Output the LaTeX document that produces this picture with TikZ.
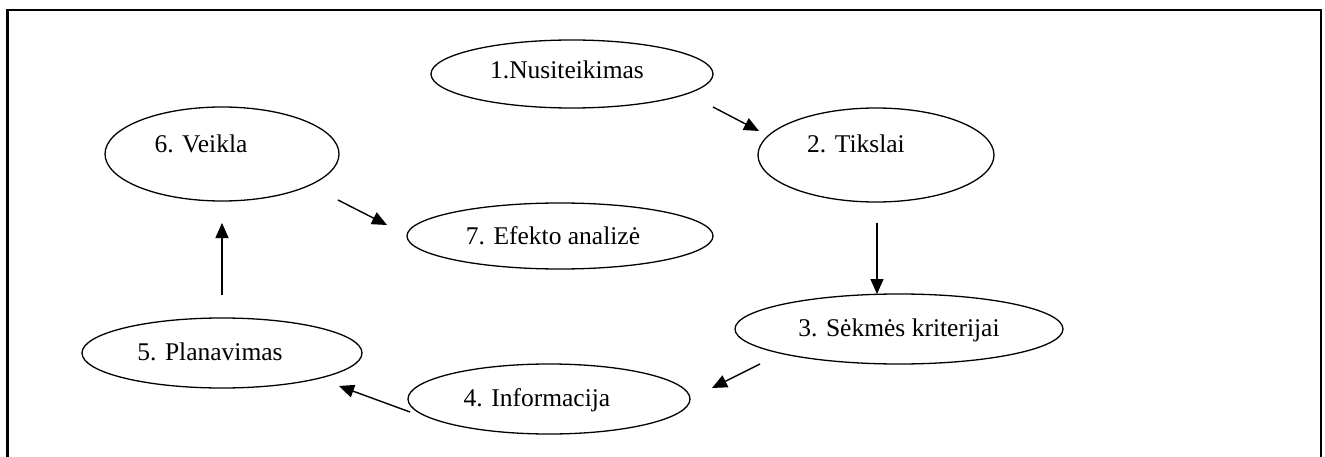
\documentclass[tikz,border=0pt]{standalone}
\usepackage{fontspec}
\setmainfont{Liberation Serif}
\usetikzlibrary{shapes.geometric,arrows.meta}
\tikzset{
  oval/.style={draw, ellipse, line width=1.3pt, inner sep=0pt},
  lbl/.style={anchor=base, inner sep=0pt, font=\fontsize{25.5}{30}\selectfont},
  arr/.style={line width=1.4pt, -{Triangle[length=15pt,width=13pt]}},
  frame/.style={line width=2.4pt}
}
\begin{document}
\begin{tikzpicture}[x=1pt,y=-1pt]
\useasboundingbox (0,0) rectangle (1325,457);
% open frame (no bottom edge)
\draw[frame] (7.5,458) -- (7.5,10) -- (1321,10) -- (1321,458);

% stages
\node[oval, minimum width=282, minimum height=68] (e1) at (572,74) {};
\node[lbl] (t1) at (567,79) {1.Nusiteikimas};
\node[oval, minimum width=236, minimum height=94] (e2) at (876,155) {};
\node[lbl] (t2) at (856,153) {2. Tikslai};
\node[oval, minimum width=328, minimum height=70] (e3) at (899,329) {};
\node[lbl] (t3) at (899,336) {3. Sėkmės kriterijai};
\node[oval, minimum width=282, minimum height=70] (e4) at (549,399) {};
\node[lbl] (t4) at (537,406) {4. Informacija};
\node[oval, minimum width=280, minimum height=70] (e5) at (222,353) {};
\node[lbl] (t5) at (210,360) {5. Planavimas};
\node[oval, minimum width=234, minimum height=94] (e6) at (222,154) {};
\node[lbl] (t6) at (201,153) {6. Veikla};
\node[oval, minimum width=306, minimum height=66] (e7) at (560,236) {};
\node[lbl] (t7) at (553,244) {7. Efekto analizė};

% arrow ends
\coordinate (a12s) at (713,107);  \coordinate (a12e) at (759,131);
\coordinate (a23s) at (877,223);  \coordinate (a23e) at (877,294);
\coordinate (a34s) at (760,364);  \coordinate (a34e) at (712,388);
\coordinate (a45s) at (410,412);  \coordinate (a45e) at (339,386);
\coordinate (a56s) at (222,295);  \coordinate (a56e) at (222,223);
\coordinate (a67s) at (338,200);  \coordinate (a67e) at (387,225);

\draw[arr] (a12s) -- (a12e);
\draw[arr] (a23s) -- (a23e);
\draw[arr] (a34s) -- (a34e);
\draw[arr] (a45s) -- (a45e);
\draw[arr] (a56s) -- (a56e);
\draw[arr] (a67s) -- (a67e);
\end{tikzpicture}
\end{document}
